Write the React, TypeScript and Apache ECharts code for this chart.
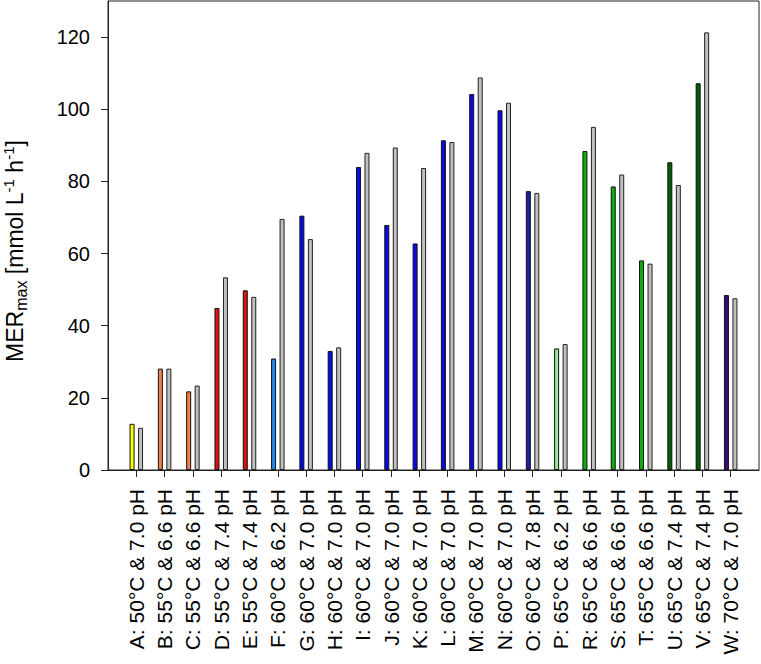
import React, { useEffect, useRef } from "react";
import * as echarts from "echarts";

const categories = [
  "A: 50°C & 7.0 pH",
  "B: 55°C & 6.6 pH",
  "C: 55°C & 6.6 pH",
  "D: 55°C & 7.4 pH",
  "E: 55°C & 7.4 pH",
  "F: 60°C & 6.2 pH",
  "G: 60°C & 7.0 pH",
  "H: 60°C & 7.0 pH",
  "I: 60°C & 7.0 pH",
  "J: 60°C & 7.0 pH",
  "K: 60°C & 7.0 pH",
  "L: 60°C & 7.0 pH",
  "M: 60°C & 7.0 pH",
  "N: 60°C & 7.0 pH",
  "O: 60°C & 7.8 pH",
  "P: 65°C & 6.2 pH",
  "R: 65°C & 6.6 pH",
  "S: 65°C & 6.6 pH",
  "T: 65°C & 6.6 pH",
  "U: 65°C & 7.4 pH",
  "V: 65°C & 7.4 pH",
  "W: 70°C & 7.0 pH",
];

const colouredValues = [
  12.8, 28.1, 21.8, 44.9, 49.8, 30.9, 70.5, 33.0, 84.0, 67.9, 62.8,
  91.4, 104.2, 99.7, 77.3, 33.7, 88.4, 78.6, 58.1, 85.3, 107.2, 48.5,
];

const greyValues = [
  11.7, 28.1, 23.4, 53.4, 48.0, 69.6, 64.0, 34.0, 87.9, 89.4, 83.7,
  90.9, 108.8, 101.8, 76.8, 34.9, 95.1, 81.9, 57.2, 79.0, 121.3, 47.6,
];

const barColours = [
  "#ffff00", "#f0804c", "#f0804c", "#e01010", "#e01010", "#1e88f0",
  "#0a0ae6", "#0a0ae6", "#0a0ae6", "#0a0ae6", "#0a0ae6", "#0a0ae6",
  "#0a0ae6", "#0a0ae6", "#1e1ea8", "#90ee90", "#0cb00c", "#0cb00c",
  "#0cb00c", "#005c00", "#005c00", "#3a0a7c",
];

const yTicks = [0, 20, 40, 60, 80, 100, 120];

export default function App() {
  const ref = useRef<HTMLDivElement>(null);

  useEffect(() => {
    if (!ref.current) return;
    const chart = echarts.init(ref.current, null, { renderer: "svg" });
    const cats = ["", ...categories, ""];
    const n = cats.length;
    const colData = [null, ...colouredValues.map((v, i) => ({
      value: v,
      itemStyle: { color: barColours[i] },
    })), null];
    const greyData = [null, ...greyValues, null];
    const font = "Liberation Sans, Arial, sans-serif";

    chart.setOption({
      animation: false,
      textStyle: { fontFamily: font },
      grid: {
        left: 108,
        right: 2,
        top: 1,
        bottom: 194,
        show: true,
        borderColor: "#222",
        borderWidth: 1,
        backgroundColor: "transparent",
      },
      xAxis: {
        type: "category",
        data: cats,
        boundaryGap: false,
        axisLine: { lineStyle: { color: "#222", width: 1 } },
        axisTick: {
          show: true,
          length: 7,
          inside: false,
          interval: (idx: number) => idx > 0 && idx < n - 1,
          lineStyle: { color: "#222" },
        },
        axisLabel: {
          interval: 0,
          rotate: 90,
          margin: 19,
          fontSize: 21,
          color: "#000",
          fontFamily: font,
        },
        splitLine: { show: false },
      },
      yAxis: {
        type: "value",
        min: 0,
        max: 130,
        interval: 20,
        axisLine: { show: true, lineStyle: { color: "#222", width: 1 } },
        axisTick: {
          show: true,
          length: 7,
          customValues: yTicks,
          lineStyle: { color: "#222" },
        },
        axisLabel: {
          customValues: yTicks,
          margin: 18,
          fontSize: 20,
          color: "#000",
          fontFamily: font,
        },
        splitLine: { show: false },
      },
      graphic: [
        {
          type: "text",
          x: 15,
          y: 251,
          rotation: Math.PI / 2,
          style: {
            text: "{a|MER}{b|max}{a| [mmol L}{c|-1}{a| h}{c|-1}{a|]}",
            align: "center",
            verticalAlign: "middle",
            fill: "#000",
            rich: {
              a: { fontSize: 23, lineHeight: 28, fontFamily: font, fill: "#000", verticalAlign: "middle" },
              b: { fontSize: 16, lineHeight: 16, fontFamily: font, fill: "#000", verticalAlign: "bottom" },
              c: { fontSize: 15, lineHeight: 15, fontFamily: font, fill: "#000", verticalAlign: "top" },
            },
          },
        },
      ],
      series: [
        {
          type: "bar",
          data: colData,
          barWidth: 5,
          barGap: "70%",
          itemStyle: { borderColor: "#111", borderWidth: 1 },
        },
        {
          type: "bar",
          data: greyData,
          barWidth: 5,
          barGap: "70%",
          itemStyle: { color: "#c0c0c0", borderColor: "#222", borderWidth: 1 },
        },
      ],
    });
    return () => chart.dispose();
  }, []);

  return (
    <div
      ref={ref}
      style={{ position: "absolute", left: 0, top: 0, width: 761, height: 664, background: "#fff" }}
    />
  );
}
